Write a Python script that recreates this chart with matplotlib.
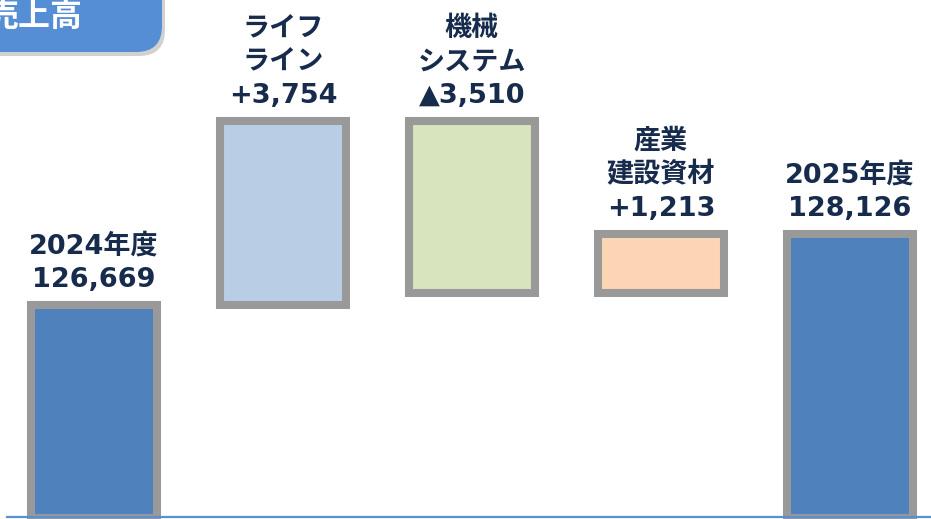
import numpy as np
import matplotlib
matplotlib.use("Agg")
import matplotlib.pyplot as plt
from matplotlib.patches import FancyBboxPatch

# ---- data ----
title = "売上高"
categories = ["2024年度", "ライフ\nライン", "機械\nシステム", "産業\n建設資材", "2025年度"]
start_value = 126669
deltas = [3754, -3510, 1213]
end_value = 128126
value_labels = ["126,669", "+3,754", "▲3,510", "+1,213", "128,126"]

# ---- style ----
fills = ["#4F81BD", "#B9CDE5", "#D7E4BD", "#FCD5B5", "#4F81BD"]
edge = "#999999"
text_color = "#172B4D"
axis_base = 122330
fam = ["DejaVu Sans", "Noto Sans CJK JP"]

W, H = 931, 519
fig = plt.figure(figsize=(W / 100, H / 100), dpi=100)
ax = fig.add_axes([0, 0, 1, 1])

# waterfall geometry from data
cum = start_value + np.cumsum(deltas)
prev = np.concatenate([[start_value], cum[:-1]])
bottoms = [axis_base] + list(np.minimum(prev, cum)) + [axis_base]
heights = [start_value - axis_base] + list(np.abs(deltas)) + [end_value - axis_base]
x = np.arange(len(categories))

ax.bar(x, heights, bottom=bottoms, width=0.667, color=fills,
       edgecolor=edge, linewidth=5.8, zorder=2)

for i in range(len(categories)):
    top = bottoms[i] + heights[i]
    ax.annotate(categories[i] + "\n" + value_labels[i], xy=(x[i], top),
                xytext=(0, 8.5), textcoords="offset points",
                ha="center", va="bottom", fontsize=19.5, fontweight="bold",
                color=text_color, family=fam, linespacing=1.38, zorder=3)

ax.set_xlim(-0.497, 4.429)
ax.set_ylim(122300, 132893)
ax.axis("off")

# bottom blue line
ax.plot([0.008, 1], [0.004, 0.004], transform=ax.transAxes, color="#5B8FD0",
        lw=1.6, zorder=4, clip_on=False)

# title pill (pixel coordinates overlay)
ov = fig.add_axes([0, 0, 1, 1], zorder=5)
ov.set_xlim(0, W)
ov.set_ylim(H, 0)
ov.axis("off")
ov.patch.set_alpha(0)
shadow = FancyBboxPatch((-60, -30), 225, 86, boxstyle="round,pad=0,rounding_size=26",
                        facecolor="#9a9a9a", edgecolor="none", alpha=0.45)
ov.add_patch(shadow)
pill = FancyBboxPatch((-60, -30), 222, 82, boxstyle="round,pad=0,rounding_size=26",
                      facecolor="#558ED5", edgecolor="none")
ov.add_patch(pill)
ov.text(34, 17, title, ha="center", va="center", fontsize=23, fontweight="bold",
        color="white", family=["Noto Sans CJK JP", "DejaVu Sans"])

fig.savefig("out.png", dpi=100)
